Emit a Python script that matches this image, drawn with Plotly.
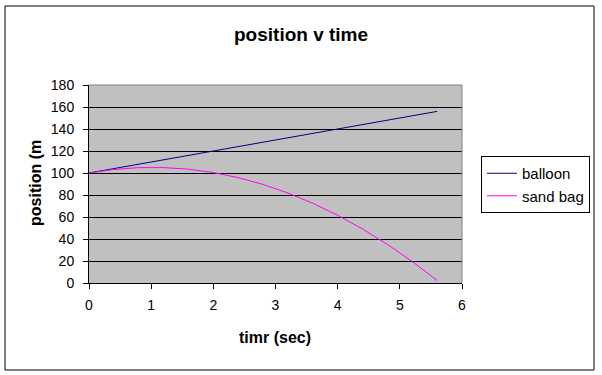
import plotly.graph_objects as go

time_s = [0, 0.4, 0.8, 1.2, 1.6, 2.0, 2.4, 2.8, 3.2, 3.6, 4.0, 4.4, 4.8, 5.2, 5.6]
balloon = [100, 104, 108, 112, 116, 120, 124, 128, 132, 136, 140, 144, 148, 152, 156]
sand_bag = [100, 103.2, 104.9, 104.9, 103.5, 100.4, 95.8, 89.6, 81.8, 72.5, 61.6, 49.1, 35.1, 19.5, 2.3]
x_ticks = [0, 1, 2, 3, 4, 5, 6]
y_ticks = [0, 20, 40, 60, 80, 100, 120, 140, 160, 180]

FONT = "Liberation Sans, Arial, sans-serif"

fig = go.Figure()
fig.add_trace(go.Scatter(x=time_s, y=balloon, mode="lines", name="balloon",
                         line=dict(color="#000080", width=1)))
fig.add_trace(go.Scatter(x=time_s, y=sand_bag, mode="lines", name="sand bag",
                         line=dict(color="#FF00FF", width=1)))

L, R, T, B = 89, 462, 85, 283
W, H = 602, 375
def px(x):
    return (x - L) / (R - L)
def py(y):
    return (B - y) / (B - T)

fig.update_layout(
    width=W, height=H,
    margin=dict(l=L, r=W - R, t=T, b=H - B, pad=0),
    paper_bgcolor="white",
    plot_bgcolor="#C0C0C0",
    font=dict(family=FONT, size=14, color="black"),
    showlegend=True,
    legend=dict(x=px(481), y=py(156), xanchor="left", yanchor="top",
                bordercolor="black", borderwidth=1, bgcolor="white",
                font=dict(family=FONT, size=15, color="black"),
                itemwidth=30),
    xaxis=dict(range=[0, 6], tickvals=x_ticks, showgrid=False, zeroline=False,
               showline=True, linecolor="black", linewidth=1,
               ticks="outside", ticklen=5, tickcolor="black",
               ticklabelstandoff=4,
               tickfont=dict(family=FONT, size=14)),
    yaxis=dict(range=[0, 180], tickvals=y_ticks, showgrid=True, gridcolor="black",
               gridwidth=1, zeroline=False,
               showline=True, linecolor="black", linewidth=1,
               ticks="outside", ticklen=5, tickcolor="black",
               ticklabelstandoff=6,
               tickfont=dict(family=FONT, size=14)),
    shapes=[
        dict(type="rect", xref="paper", yref="paper", x0=px(5), x1=px(594),
             y0=py(370), y1=py(6), line=dict(color="black", width=1), layer="below"),
        dict(type="line", xref="paper", yref="paper", x0=0, x1=1, y0=1, y1=1,
             line=dict(color="#808080", width=1), layer="above"),
        dict(type="line", xref="paper", yref="paper", x0=1, x1=1, y0=0, y1=1,
             line=dict(color="#808080", width=1), layer="above"),
    ],
    annotations=[
        dict(text="<b>position v time</b>", xref="paper", yref="paper",
             x=px(301), y=py(34), xanchor="center", yanchor="middle",
             showarrow=False, font=dict(family=FONT, size=19, color="black")),
        dict(text="<b>timr (sec)</b>", xref="paper", yref="paper",
             x=px(275), y=py(337), xanchor="center", yanchor="middle",
             showarrow=False, font=dict(family=FONT, size=16, color="black")),
        dict(text="<b>position (m</b>", xref="paper", yref="paper",
             x=px(35), y=py(183), xanchor="center", yanchor="middle",
             textangle=-90, showarrow=False,
             font=dict(family=FONT, size=16, color="black")),
    ],
)

fig.write_html("out.html", config={"displayModeBar": False},
               post_script="document.body.style.margin='0';document.body.style.overflow='hidden';")
